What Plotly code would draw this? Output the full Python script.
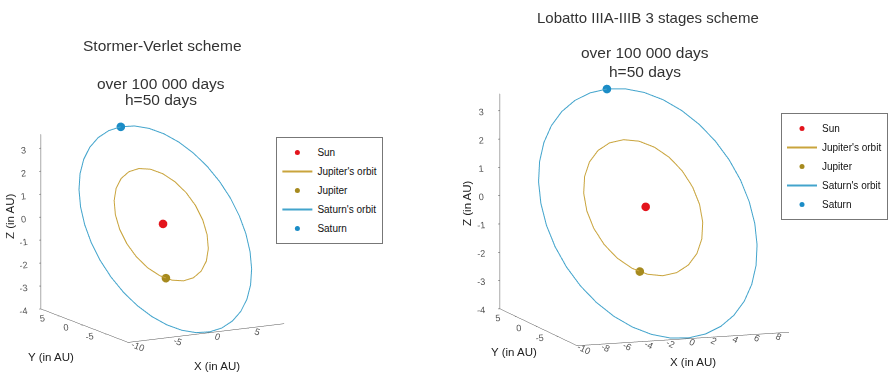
import plotly.graph_objects as go

# Heliocentric orbits (AU, equatorial frame), one revolution sampled along the path
saturn_x = [-0.378, -2.024, -3.609, -5.083, -6.402, -7.526, -8.420, -9.059, -9.421, -9.496,
            -9.282, -8.785, -8.021, -7.012, -5.790, -4.391, -2.858, -1.237, 0.421, 2.067,
            3.652, 5.126, 6.446, 7.569, 8.464, 9.102, 9.464, 9.539, 9.325, 8.828,
            8.064, 7.055, 5.833, 4.434, 2.901, 1.280, -0.378]
saturn_y = [8.273, 8.077, 7.621, 6.918, 5.991, 4.869, 3.584, 2.174, 0.685, -0.839,
            -2.351, -3.807, -5.162, -6.374, -7.406, -8.228, -8.815, -9.147, -9.217, -9.021,
            -8.565, -7.862, -6.935, -5.813, -4.528, -3.119, -1.629, -0.106, 1.407, 2.863,
            4.218, 5.430, 6.462, 7.284, 7.871, 8.203, 8.273]
saturn_z = [3.587, 3.502, 3.304, 2.999, 2.598, 2.111, 1.554, 0.943, 0.297, -0.364,
            -1.019, -1.650, -2.238, -2.764, -3.211, -3.567, -3.822, -3.966, -3.996, -3.911,
            -3.713, -3.409, -3.007, -2.520, -1.963, -1.352, -0.707, -0.046, 0.610, 1.241,
            1.829, 2.354, 2.802, 3.158, 3.413, 3.557, 3.587]

jupiter_x = [4.787, 4.274, 3.453, 2.380, 1.128, -0.218, -1.565, -2.823, -3.905, -4.738,
             -5.264, -5.449, -5.279, -4.766, -3.945, -2.872, -1.620, -0.275, 1.073, 2.330,
             3.413, 4.245, 4.772, 4.957, 4.787]
jupiter_y = [1.152, 2.305, 3.297, 4.059, 4.541, 4.710, 4.554, 4.082, 3.330, 2.345,
             1.197, -0.036, -1.271, -2.423, -3.415, -4.177, -4.659, -4.828, -4.672, -4.201,
             -3.448, -2.464, -1.317, -0.083, 1.152]
jupiter_z = [0.500, 0.999, 1.429, 1.760, 1.969, 2.042, 1.974, 1.770, 1.444, 1.017,
             0.519, -0.016, -0.551, -1.051, -1.481, -1.811, -2.020, -2.093, -2.026, -1.822,
             -1.495, -1.069, -0.571, -0.036, 0.500]

# Positions reached at the end of the integration
sun_pos = [0.0, 0.0, 0.0]
jupiter_pos = [-2.25, -4.42, -1.92]
saturn_pos = [-0.40, 8.27, 3.59]

x_range = [-10.0, 9.6]
y_range = [-9.5, 9.0]
z_range = [-4.0, 3.6]

# Tick positions (labels use a plain hyphen for negatives)
x_ticks_left = [-10, -5, 0, 5]
x_ticks_right = [-10, -8, -6, -4, -2, 0, 2, 4, 6, 8]
y_ticks = [-5, 0, 5]
z_ticks = [-4, -3, -2, -1, 0, 1, 2, 3]

panel_titles = ["Stormer-Verlet scheme", "Lobatto IIIA-IIIB 3 stages scheme"]
run_lines = ["over 100 000 days", "h=50 days"]
axis_titles = ["X (in AU)", "Y (in AU)", "Z (in AU)"]

SUN_C = "#e3141c"
JUP_ORBIT_C = "#c9a43c"
JUP_C = "#a68a1e"
SAT_ORBIT_C = "#42a4cc"
SAT_C = "#1b8cc6"
FONT = "Liberation Sans, Arial, sans-serif"
W, H = 888, 373

fig = go.Figure()


def add_panel(scene, legend):
    common = dict(scene=scene, legend=legend)
    fig.add_trace(go.Scatter3d(x=[sun_pos[0]], y=[sun_pos[1]], z=[sun_pos[2]], mode="markers",
                               name="Sun", marker=dict(size=5, color=SUN_C), **common))
    fig.add_trace(go.Scatter3d(x=jupiter_x, y=jupiter_y, z=jupiter_z, mode="lines",
                               name="Jupiter's orbit", line=dict(width=2, color=JUP_ORBIT_C), **common))
    fig.add_trace(go.Scatter3d(x=[jupiter_pos[0]], y=[jupiter_pos[1]], z=[jupiter_pos[2]], mode="markers",
                               name="Jupiter", marker=dict(size=5, color=JUP_C), **common))
    fig.add_trace(go.Scatter3d(x=saturn_x, y=saturn_y, z=saturn_z, mode="lines",
                               name="Saturn's orbit", line=dict(width=2, color=SAT_ORBIT_C), **common))
    fig.add_trace(go.Scatter3d(x=[saturn_pos[0]], y=[saturn_pos[1]], z=[saturn_pos[2]], mode="markers",
                               name="Saturn", marker=dict(size=5, color=SAT_C), **common))


add_panel("scene", "legend")
add_panel("scene2", "legend2")


def axis(rng, ticks, fsize):
    return dict(title=dict(text=""),
                range=rng, autorange=False,
                tickmode="array", tickvals=ticks, ticktext=[str(t) for t in ticks],
                showgrid=False, zeroline=False, showbackground=False,
                showline=True, linecolor="#555", linewidth=1,
                ticks="outside", ticklen=2, tickcolor="#555",
                tickfont=dict(family=FONT, size=fsize, color="#555"),
                showspikes=False)


def scene(px_x, px_y, eye, xticks, size_xy, size_z, fsize):
    return dict(domain=dict(x=[px_x[0] / W, px_x[1] / W], y=[1 - px_y[1] / H, 1 - px_y[0] / H]),
                xaxis=axis(x_range, xticks, fsize),
                yaxis=axis(y_range, y_ticks, fsize),
                zaxis=axis(z_range, z_ticks, fsize),
                aspectmode="manual", aspectratio=dict(x=size_xy, y=size_xy, z=size_z),
                camera=dict(eye=eye, center=dict(x=0, y=0, z=0), up=dict(x=0, y=0, z=1),
                            projection=dict(type="orthographic")),
                bgcolor="white")


def label(text, px, py, size, angle=0, color="#333"):
    return dict(text=text, x=px / W, y=1 - py / H, xref="paper", yref="paper",
                xanchor="center", yanchor="middle", showarrow=False, textangle=angle,
                font=dict(family=FONT, size=size, color=color))


legend_style = dict(xanchor="left", yanchor="top", bgcolor="white", bordercolor="#777",
                    borderwidth=1, font=dict(family=FONT, size=10, color="#111"), itemwidth=30)

fig.update_layout(
    width=W, height=H,
    margin=dict(l=0, r=0, t=0, b=0),
    paper_bgcolor="white",
    font=dict(family=FONT, color="#222"),
    scene=scene((13.4, 313.4), (86.3, 372.3),
                dict(x=-0.477 * 1.6, y=-0.853 * 1.6, z=0.215 * 1.6), x_ticks_left, 1.25, 1.25, 10.5),
    scene2=scene((476, 816), (52.5, 372.5),
                 dict(x=-0.337 * 1.5, y=-0.926 * 1.5, z=0.174 * 1.5), x_ticks_right, 1.41, 1.365, 10.5),
    legend=dict(x=277 / W, y=1 - 137 / H, **legend_style),
    legend2=dict(x=783 / W, y=1 - 113 / H, **legend_style),
    showlegend=True,
    annotations=[
        label(panel_titles[0], 163, 46, 15.5),
        label(run_lines[0], 161, 83, 15.5),
        label(run_lines[1], 161, 100, 15.5),
        label(panel_titles[1], 649, 17, 15),
        label(run_lines[0], 646, 53, 15.5),
        label(run_lines[1], 646, 71, 15.5),
        label(axis_titles[0], 217, 366, 11.5, color="#222"),
        label(axis_titles[1], 51, 357, 11.5, color="#222"),
        label(axis_titles[2], 10, 216, 11.5, angle=-90, color="#222"),
        label(axis_titles[0], 695, 362, 11.5, color="#222"),
        label(axis_titles[1], 515, 352, 11.5, color="#222"),
        label(axis_titles[2], 468, 203, 11.5, angle=-90, color="#222"),
    ],
)

fig.write_html("out.html")
